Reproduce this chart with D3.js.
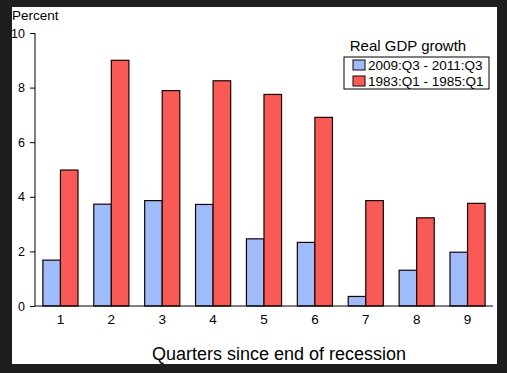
<!DOCTYPE html>
<html>
<head>
<meta charset="utf-8">
<script src="https://cdn.jsdelivr.net/npm/d3@7"></script>
<style>
  html, body { margin: 0; padding: 0; background: #1e1e1e; }
  svg { display: block; }
  text { font-family: "Liberation Sans", Arial, sans-serif; }
</style>
</head>
<body>
<svg id="chart" width="507" height="373"></svg>
<script>
const categories = ["1", "2", "3", "4", "5", "6", "7", "8", "9"];
const seriesNames = ["2009:Q3 - 2011:Q3", "1983:Q1 - 1985:Q1"];
const recent = [1.68, 3.73, 3.86, 3.72, 2.46, 2.33, 0.35, 1.31, 1.97];
const reagan = [4.98, 9.0, 7.89, 8.25, 7.75, 6.91, 3.86, 3.23, 3.76];
const yTicks = [0, 2, 4, 6, 8, 10];
const colors = ["#9dbcf9", "#f95a55"];

const svg = d3.select("#chart");

// white panel
svg.append("rect").attr("x", 12).attr("y", 7).attr("width", 485).attr("height", 357).attr("fill", "#ffffff");

const x = d3.scaleBand().domain(categories).range([35, 493]).paddingInner(0.31).paddingOuter(0.155);
const xs = d3.scaleBand().domain([0, 1]).range([0, x.bandwidth()]);
const y = d3.scaleLinear().domain([0, 10]).range([306, 33]);

const data = categories.map((c, i) => ({ c, vals: [recent[i], reagan[i]] }));

const g = svg.append("g");
g.selectAll("g.grp").data(data).join("g")
  .attr("class", "grp")
  .attr("transform", d => `translate(${x(d.c)},0)`)
  .selectAll("rect").data(d => d.vals.map((v, k) => ({ v, k }))).join("rect")
  .attr("x", d => xs(d.k))
  .attr("y", d => y(d.v))
  .attr("width", xs.bandwidth())
  .attr("height", d => y(0) - y(d.v))
  .attr("fill", d => colors[d.k])
  .attr("stroke", "#1a0000")
  .attr("stroke-width", 1.2);

// y axis
const yAxis = svg.append("g").attr("transform", "translate(35,0)")
  .call(d3.axisLeft(y).tickValues(yTicks).tickSize(5).tickPadding(5).tickFormat(d3.format("d")));
yAxis.select(".domain").attr("stroke", "#000").attr("d", `M0,${y(10)}V${y(0)}`);
yAxis.selectAll(".tick line").attr("stroke", "#000");
yAxis.selectAll("text").attr("fill", "#000").style("font-size", "12.5px").style("font-family", "Liberation Sans, Arial, sans-serif");

// x axis
const xAxis = svg.append("g").attr("transform", `translate(0,${y(0)})`)
  .call(d3.axisBottom(x).tickSize(0).tickPadding(8));
xAxis.select(".domain").attr("stroke", "#000").attr("d", "M35,0H493");
xAxis.selectAll("text").attr("fill", "#000").style("font-size", "13.5px").style("font-family", "Liberation Sans, Arial, sans-serif");

// titles
svg.append("text").attr("x", 12).attr("y", 20).style("font-size", "13.5px").attr("fill", "#000").text("Percent");
svg.append("text").attr("x", 279).attr("y", 360).attr("text-anchor", "middle").style("font-size", "18px").attr("fill", "#000")
  .text("Quarters since end of recession");

// legend
svg.append("text").attr("x", 408).attr("y", 51).attr("text-anchor", "middle").style("font-size", "15px").attr("fill", "#000").text("Real GDP growth");
svg.append("rect").attr("x", 344).attr("y", 57).attr("width", 145).attr("height", 32).attr("fill", "#fff").attr("stroke", "#000").attr("stroke-width", 1);
const leg = svg.selectAll("g.leg").data(seriesNames).join("g").attr("class", "leg")
  .attr("transform", (d, i) => `translate(353,${65 + i * 16})`);
leg.append("rect").attr("x", 0).attr("y", -5).attr("width", 12).attr("height", 10)
  .attr("fill", (d, i) => colors[i]).attr("stroke", "#1a0000").attr("stroke-width", 1);
leg.append("text").attr("x", 15).attr("y", 5).style("font-size", "13.5px").attr("fill", "#000").text(d => d);
</script>
</body>
</html>
